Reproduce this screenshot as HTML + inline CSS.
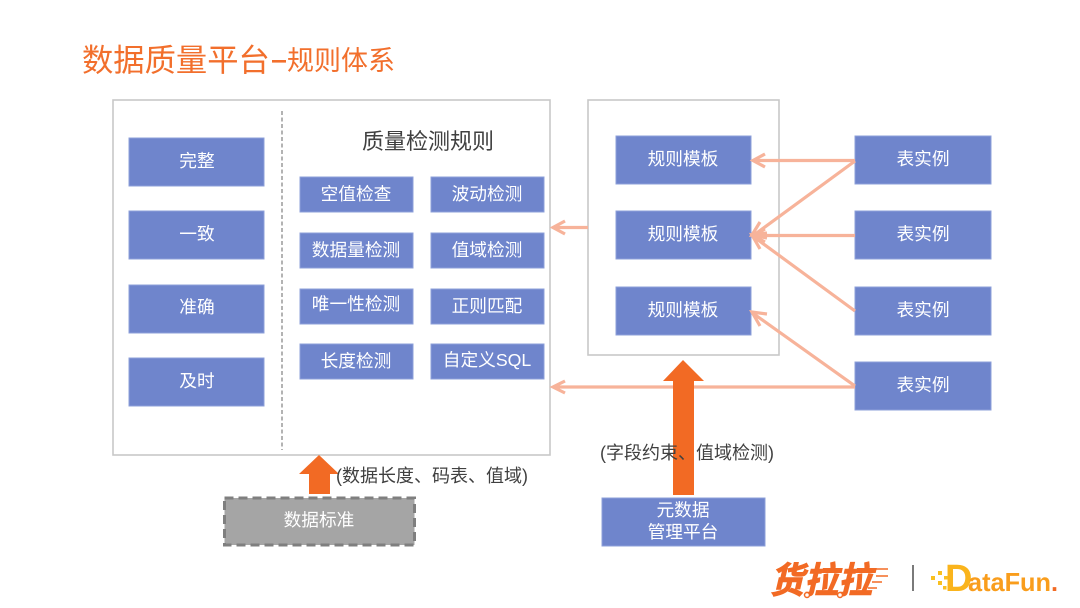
<!DOCTYPE html>
<html>
<head>
<meta charset="utf-8">
<style>
html,body{margin:0;padding:0;background:#fff}
svg{display:block}
text{font-family:"Liberation Sans","Noto Sans CJK SC",sans-serif}
.w{fill:#fff;font-size:17.7px;text-anchor:middle}
.b{fill:#6f85cc;stroke:#8ea0da;stroke-width:1}
.a{stroke:#f7b39a;stroke-width:3.2;fill:none}
</style>
</head>
<body>
<svg width="1080" height="608" viewBox="0 0 1080 608" xmlns="http://www.w3.org/2000/svg">
<rect width="1080" height="608" fill="#fff"/>
<text x="82" y="71" font-size="31.3" fill="#f26f2c">数据质量平台</text>
<rect x="272" y="60" width="14" height="2.600" fill="#f26f2c"/>
<text x="287" y="70" font-size="27" fill="#f26f2c">规则体系</text>

<rect x="113" y="100" width="437" height="355" fill="#fff" stroke="#c8c8c8" stroke-width="1.6"/>
<rect x="588" y="100" width="191" height="255" fill="#fff" stroke="#c8c8c8" stroke-width="1.6"/>
<line x1="282" y1="111" x2="282" y2="450" stroke="#8a8a8a" stroke-width="1.3" stroke-dasharray="4 2.5"/>

<rect class="b" x="129" y="138" width="135" height="48"/><text class="w" x="197" y="167">完整</text>
<rect class="b" x="129" y="211" width="135" height="48"/><text class="w" x="197" y="240">一致</text>
<rect class="b" x="129" y="285" width="135" height="48"/><text class="w" x="197" y="313">准确</text>
<rect class="b" x="129" y="358" width="135" height="48"/><text class="w" x="197" y="387">及时</text>

<text x="428" y="149" font-size="22" fill="#404040" text-anchor="middle">质量检测规则</text>

<rect class="b" x="300" y="177" width="113" height="35"/><text class="w" x="356" y="200">空值检查</text>
<rect class="b" x="431" y="177" width="113" height="35"/><text class="w" x="487" y="200">波动检测</text>
<rect class="b" x="300" y="233" width="113" height="35"/><text class="w" x="356" y="256">数据量检测</text>
<rect class="b" x="431" y="233" width="113" height="35"/><text class="w" x="487" y="256">值域检测</text>
<rect class="b" x="300" y="289" width="113" height="35"/><text class="w" x="356" y="310">唯一性检测</text>
<rect class="b" x="431" y="289" width="113" height="35"/><text class="w" x="487" y="312">正则匹配</text>
<rect class="b" x="300" y="344" width="113" height="35"/><text class="w" x="356" y="367">长度检测</text>
<rect class="b" x="431" y="344" width="113" height="35"/><text class="w" x="487" y="366">自定义SQL</text>

<rect class="b" x="616" y="136" width="135" height="48"/><text class="w" x="683" y="165">规则模板</text>
<rect class="b" x="616" y="211" width="135" height="48"/><text class="w" x="683" y="240">规则模板</text>
<rect class="b" x="616" y="287" width="135" height="48"/><text class="w" x="683" y="316">规则模板</text>

<rect class="b" x="855" y="136" width="136" height="48"/><text class="w" x="923" y="165">表实例</text>
<rect class="b" x="855" y="211" width="136" height="48"/><text class="w" x="923" y="240">表实例</text>
<rect class="b" x="855" y="287" width="136" height="48"/><text class="w" x="923" y="316">表实例</text>
<rect class="b" x="855" y="362" width="136" height="48"/><text class="w" x="923" y="391">表实例</text>

<g class="a">
<path d="M855 160.500H754M765 154L753 160.500L765 167"/>
<path d="M855 161L754 235M760 222L752 235L767 233"/>
<path d="M855 235.500H754M765 229L753 235.500L765 242"/>
<path d="M855 311L754 237M767 238L752 235L760 249"/>
<path d="M855 386L754 314M767 314L752 312L760 326"/>
<path d="M855 387H554M565 381L553 387L565 393"/>
<path d="M588 227.500H554M565 221L553 227.500L565 234"/>
</g>

<path d="M683 360L704 381H694V495H673V381H663Z" fill="#f26a24"/>
<text x="600" y="459" font-size="18" fill="#404040">(字段约束、值域检测)</text>
<path d="M319 455L339 474H330V494H309V474H299Z" fill="#f26a24"/>
<text x="336" y="482" font-size="18" fill="#404040">(数据长度、码表、值域)</text>

<rect x="224.500" y="498" width="190" height="47" fill="#a5a5a5" stroke="#7f7f7f" stroke-width="3" stroke-dasharray="9 5"/>
<text class="w" x="319" y="526">数据标准</text>

<rect class="b" x="602" y="498" width="163" height="48"/>
<text class="w" x="683" y="516">元数据</text>
<text class="w" x="683" y="538">管理平台</text>

<text x="770" y="593" font-size="36" font-weight="bold" font-style="italic" fill="#f26a24" stroke="#f26a24" stroke-width="1" textLength="102" lengthAdjust="spacingAndGlyphs">货拉拉</text>
<g stroke="#f26a24" stroke-width="1.500"><line x1="876" y1="569" x2="888" y2="569"/><line x1="876" y1="576" x2="888" y2="576"/><line x1="872" y1="582" x2="882" y2="582"/><line x1="868" y1="588" x2="877" y2="588"/></g>
<g fill="#fff" stroke="#f26a24" stroke-width="1.500"><circle cx="807" cy="595" r="2.500"/><circle cx="840" cy="595" r="2.500"/></g>
<line x1="913" y1="565" x2="913" y2="591" stroke="#333" stroke-width="1.300"/>
<g fill="#f9c020"><rect x="931" y="576" width="4" height="4"/><rect x="938" y="571" width="4" height="4"/><rect x="938" y="581" width="4" height="4"/><rect x="944" y="576" width="3.500" height="3.500"/><rect x="943" y="586" width="3.500" height="3.500"/></g>
<text x="945" y="591" font-size="38" font-weight="bold" fill="#fab41c">D</text>
<text x="968" y="591" font-size="26" font-weight="bold" fill="#f99d1c" textLength="90" lengthAdjust="spacingAndGlyphs">ataFun<tspan fill="#f26a24">.</tspan></text>
</svg>
</body>
</html>
